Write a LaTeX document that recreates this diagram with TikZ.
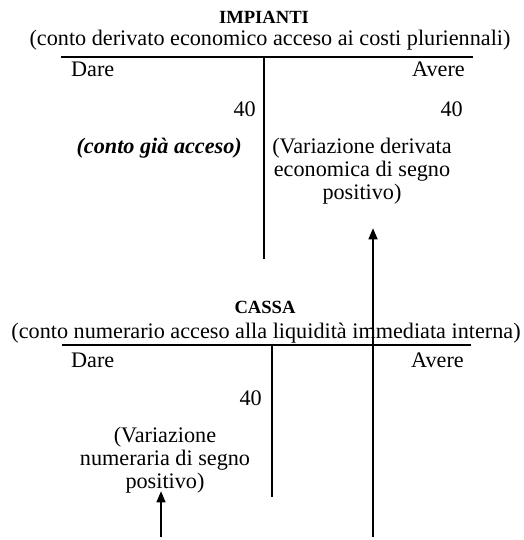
\documentclass[tikz,border=0pt]{standalone}
\usepackage{fontspec}
\setmainfont{Liberation Serif}
\usetikzlibrary{arrows.meta, positioning}

\begin{document}
\begin{tikzpicture}[
  x=1pt, y=-1pt,
  txt/.style={inner sep=1pt, font=\fontsize{22.2}{23}\selectfont},
  title/.style={inner sep=1pt, font=\fontsize{18.6}{20}\selectfont\bfseries},
  note/.style={txt, align=center},
  tline/.style={line width=1.3pt},
  arrow/.style={-{Triangle[length=11pt, width=9pt]}, line width=1.3pt}
]
\useasboundingbox (0,0) rectangle (523,540);

% IMPIANTI
\node[title] (imptitle) at (264,17) {IMPIANTI};
\node[txt] (impsub) at (270,40) {(conto derivato economico acceso ai costi pluriennali)};
\coordinate (impL) at (61,57);
\coordinate (impR) at (473,57);
\coordinate (impT) at (264,57);
\coordinate (impB) at (264,259);
\draw[tline] (impL) -- (impR);
\draw[tline] (impT) -- (impB);
\node[txt, anchor=west] (impdare) at (70,69) {Dare};
\node[txt, anchor=east] (impavere) at (466,69) {Avere};
\node[txt, anchor=east] (impdval) at (257,109) {40};
\node[txt, anchor=east] (impaval) at (464,109) {40};
\node[txt, anchor=east, font=\fontsize{22.2}{23}\selectfont\bfseries\itshape] (impnote) at (243,148) {(conto già acceso)};
\node[note] (impvar) at (362,171) {(Variazione derivata\\economica di segno\\positivo)};

% CASSA
\node[title] (cassatitle) at (265,307) {CASSA};
\node[txt] (cassasub) at (266,333) {(conto numerario acceso alla liquidità immediata interna)};
\coordinate (cassaL) at (62,345);
\coordinate (cassaR) at (471,345);
\coordinate (cassaT) at (272,345);
\coordinate (cassaB) at (272,497);
\draw[tline] (cassaL) -- (cassaR);
\draw[tline] (cassaT) -- (cassaB);
\node[txt, anchor=west] (cassadare) at (70,360) {Dare};
\node[txt, anchor=east] (cassaavere) at (465,360) {Avere};
\node[txt, anchor=east] (cassadval) at (263,398) {40};
\node[note] (cassavar) at (165,460) {(Variazione\\numeraria di segno\\positivo)};

% arrows
\coordinate (arrR) at (373,537);
\coordinate (arrL) at (161,537);
\draw[arrow, shorten >=23pt] (arrR) -- (arrR |- impvar.south);
\draw[arrow, shorten >=-3pt] (arrL) -- (arrL |- cassavar.south);
\end{tikzpicture}
\end{document}
